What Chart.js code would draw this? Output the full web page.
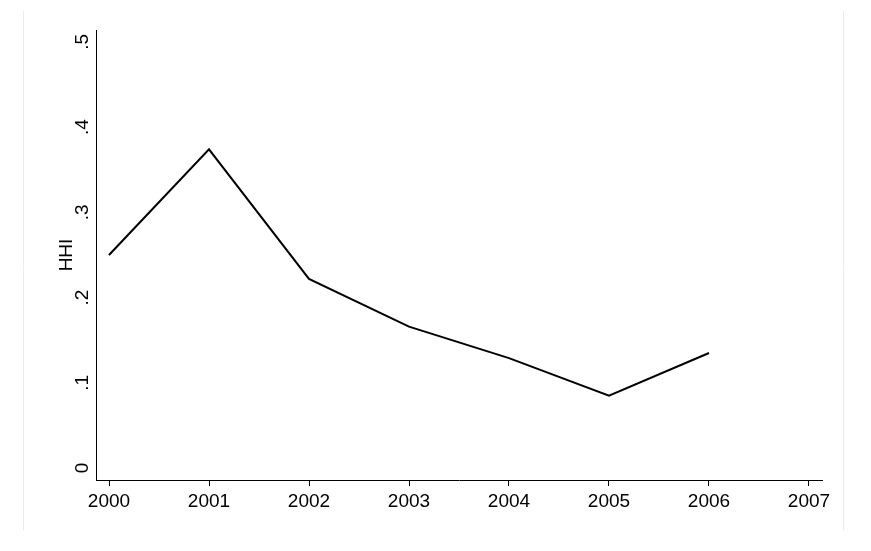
<!DOCTYPE html>
<html>
<head>
<meta charset="utf-8">
<script src="https://cdn.jsdelivr.net/npm/chart.js@4.4.1/dist/chart.umd.min.js"></script>
<style>
  html, body { margin: 0; padding: 0; background: #fff; }
  #wrap { width: 871px; height: 551px; position: relative; }
</style>
</head>
<body>
<div id="wrap"><canvas id="chart" width="871" height="551"></canvas></div>
<script>
// Data
const years = [2000, 2001, 2002, 2003, 2004, 2005, 2006];
const hhi = [0.250, 0.374, 0.222, 0.166, 0.129, 0.085, 0.135];
const xTicks = [2000, 2001, 2002, 2003, 2004, 2005, 2006, 2007];
const yTicks = [0, 0.1, 0.2, 0.3, 0.4, 0.5];
const yTickLabels = ['0', '.1', '.2', '.3', '.4', '.5'];
const yTitle = 'HHI';

const FONT = '"Liberation Sans", Arial, sans-serif';

// Draws the faint frame, rotated y tick labels and the y title (Stata style)
const stataText = {
  id: 'stataText',
  beforeDraw(chart) {
    const ctx = chart.ctx;
    ctx.save();
    ctx.strokeStyle = '#ebebeb';
    ctx.lineWidth = 1;
    ctx.beginPath();
    ctx.moveTo(23.5, 11);
    ctx.lineTo(23.5, 530);
    ctx.moveTo(843.5, 11);
    ctx.lineTo(843.5, 530);
    ctx.stroke();
    ctx.restore();
  },
  afterDraw(chart) {
    const ctx = chart.ctx;
    const y = chart.scales.y;
    ctx.save();
    ctx.fillStyle = '#000';
    ctx.font = '19px ' + FONT;
    ctx.textAlign = 'center';
    ctx.textBaseline = 'alphabetic';
    yTicks.forEach((v, i) => {
      const py = y.getPixelForValue(v);
      ctx.save();
      ctx.translate(88, py);
      ctx.rotate(-Math.PI / 2);
      ctx.fillText(yTickLabels[i], 0, 0);
      ctx.restore();
    });
    const midY = (chart.chartArea.top + chart.chartArea.bottom) / 2;
    ctx.translate(72, midY);
    ctx.rotate(-Math.PI / 2);
    ctx.fillText(yTitle, 0, 0);
    ctx.restore();
  }
};

new Chart(document.getElementById('chart'), {
  type: 'line',
  data: {
    datasets: [{
      label: yTitle,
      data: years.map((yr, i) => ({ x: yr, y: hhi[i] })),
      borderColor: '#000',
      borderWidth: 2,
      pointRadius: 0,
      tension: 0,
      fill: false,
    }],
  },
  options: {
    responsive: false,
    animation: false,
    layout: { padding: { top: 30, right: 49, left: 0, bottom: 0 } },
    plugins: {
      legend: { display: false },
      tooltip: { enabled: false },
    },
    scales: {
      x: {
        type: 'linear',
        min: 1999.87,
        max: 2007.13,
        afterBuildTicks: (s) => { s.ticks = xTicks.map((v) => ({ value: v })); },
        afterFit: (s) => { s.height = 71; },
        border: { display: true, color: '#000', width: 1 },
        grid: { display: true, drawOnChartArea: false, color: '#000', tickLength: 6, tickWidth: 1 },
        ticks: {
          color: '#000',
          font: { family: FONT, size: 19 },
          padding: 4,
          maxRotation: 0,
          callback: (v) => String(v),
        },
      },
      y: {
        min: -0.014,
        max: 0.514,
        afterBuildTicks: (s) => { s.ticks = yTicks.map((v) => ({ value: v })); },
        afterFit: (s) => { s.width = 96; },
        border: { display: true, color: '#000', width: 1 },
        grid: { display: false },
        ticks: { display: false },
      },
    },
  },
  plugins: [stataText],
});
</script>
</body>
</html>
